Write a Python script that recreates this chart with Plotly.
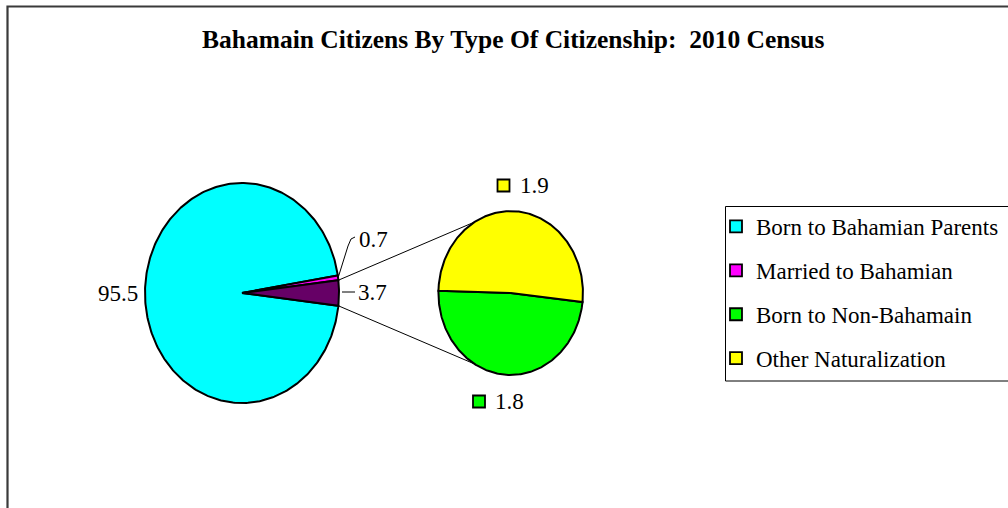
import numpy as np
import plotly.graph_objects as go

# ---------------- data ----------------
main_labels = ["Born to Bahamian Parents", "Married to Bahamian", "Born to Non-Bahamain", "Other Naturalization"]
main_values = [95.5, 0.7, 1.8, 1.9]
main_colors = ["#00FFFF", "#FF00FF", "#00FF00", "#FFFF00"]
other_color = "#660066"
title_text = "<b>Bahamain Citizens By Type Of Citizenship:&nbsp; 2010 Census</b>"

FONT = "Liberation Serif"
W, H = 1008, 508

# ---------------- geometry (layout) ----------------
SX, SY = 97.0, 110.0          # pixels per data unit on x and y
CX_PX, CY_PX = 242.0, 293.0   # main pie centre in pixels
MAIN_C, MAIN_R = (0.0, 0.0), 1.0
SEC_C, SEC_R = (2.77, 0.0), 0.745
SEC_START = 178.5             # second pie start angle (deg, ccw)
CONN_ANG = 120.0              # where connectors meet second pie


def px(xp, yp):
    return (xp - CX_PX) / SX, (CY_PX - yp) / SY


def wedge(c, r, a0, a1):
    t = np.radians(np.linspace(a0, a1, max(int(abs(a1 - a0) / 1.0) + 2, 3)))
    xs = np.concatenate([[c[0]], c[0] + r * np.cos(t), [c[0]]])
    ys = np.concatenate([[c[1]], c[1] + r * np.sin(t), [c[1]]])
    return xs, ys


def pt(c, r, a):
    a = np.radians(a)
    return c[0] + r * np.cos(a), c[1] + r * np.sin(a)


fig = go.Figure()

# main pie: born, married, other(combined)
vals = dict(zip(main_labels, main_values))
other_val = vals["Born to Non-Bahamain"] + vals["Other Naturalization"]
main_total = vals["Born to Bahamian Parents"] + vals["Married to Bahamian"] + other_val
other_span = other_val / main_total * 360
married_span = vals["Married to Bahamian"] / main_total * 360
born_span = vals["Born to Bahamian Parents"] / main_total * 360

o0, o1 = -other_span / 2, other_span / 2
m0, m1 = o1, o1 + married_span
b0, b1 = m1, m1 + born_span

line = dict(color="black", width=2)
for (a0, a1, col) in [(b0, b1, main_colors[0]), (m0, m1, main_colors[1]), (o0, o1, other_color)]:
    xs, ys = wedge(MAIN_C, MAIN_R, a0, a1)
    fig.add_trace(go.Scatter(x=xs, y=ys, mode="lines", fill="toself", fillcolor=col,
                             line=line, showlegend=False, hoverinfo="skip"))

# second pie
sec_total = other_val
g_span = vals["Born to Non-Bahamain"] / sec_total * 360
y_span = vals["Other Naturalization"] / sec_total * 360
g0, g1 = SEC_START, SEC_START + g_span
y0, y1 = g1, g1 + y_span
for (a0, a1, col) in [(g0, g1, main_colors[2]), (y0, y1, main_colors[3])]:
    xs, ys = wedge(SEC_C, SEC_R, a0, a1)
    fig.add_trace(go.Scatter(x=xs, y=ys, mode="lines", fill="toself", fillcolor=col,
                             line=line, showlegend=False, hoverinfo="skip"))

# connector lines
for s, a in [(o1, CONN_ANG), (o0, -CONN_ANG)]:
    p0 = pt(MAIN_C, MAIN_R, s)
    p1 = pt(SEC_C, SEC_R, a)
    fig.add_trace(go.Scatter(x=[p0[0], p1[0]], y=[p0[1], p1[1]], mode="lines",
                             line=dict(color="black", width=1), showlegend=False, hoverinfo="skip"))

# leader lines
mm = pt(MAIN_C, MAIN_R, (m0 + m1) / 2)
hook = [(348, 246), (351, 239), (355, 237)]
lx = [mm[0]] + [px(x, y)[0] for x, y in hook]
ly = [mm[1]] + [px(x, y)[1] for x, y in hook]
fig.add_trace(go.Scatter(x=lx, y=ly, mode="lines", line=dict(color="black", width=1),
                         showlegend=False, hoverinfo="skip"))
a = px(342, 292); b = px(355, 292)
fig.add_trace(go.Scatter(x=[a[0], b[0]], y=[a[1], b[1]], mode="lines", line=dict(color="black", width=1),
                         showlegend=False, hoverinfo="skip"))

# label keys for second-pie labels
k1 = px(503.5, 185.5); k2 = px(479, 401.5)
fig.add_trace(go.Scatter(x=[k1[0], k2[0]], y=[k1[1], k2[1]], mode="markers",
                         marker=dict(symbol="square", size=12, color=[main_colors[3], main_colors[2]],
                                     line=dict(color="black", width=1.8)),
                         showlegend=False, hoverinfo="skip"))

# legend entries
for i, (name, col) in enumerate(zip(main_labels, main_colors)):
    fig.add_trace(go.Scatter(x=[None], y=[None], mode="markers", name=name, legendgroup=f"g{i}",
                             marker=dict(symbol="square", size=12, color=col,
                                         line=dict(color="black", width=1.8))))

annots = []
def label(text, xp, yp, anchor):
    x, y = px(xp, yp)
    annots.append(dict(x=x, y=y, xref="x", yref="y", text=text, showarrow=False,
                       xanchor=anchor, yanchor="middle",
                       font=dict(family=FONT, size=23, color="black")))

label(f"{vals['Born to Bahamian Parents']}", 140, 293, "right")
label(f"{vals['Married to Bahamian']}", 357, 239, "left")
label(f"{other_val:.1f}", 356, 292, "left")
label(f"{vals['Other Naturalization']}", 518, 185, "left")
label(f"{vals['Born to Non-Bahamain']}", 493, 401, "left")

annots.append(dict(x=513.5 / W, y=1 - 40 / H, xref="paper", yref="paper", text=title_text,
                   showarrow=False, xanchor="center", yanchor="middle",
                   font=dict(family=FONT, size=25.5, color="black")))

fig.update_layout(
    width=W, height=H,
    margin=dict(l=0, r=0, t=0, b=0, autoexpand=False),
    paper_bgcolor="white", plot_bgcolor="white",
    xaxis=dict(range=[-CX_PX / SX, (W - CX_PX) / SX], visible=False, fixedrange=True),
    yaxis=dict(range=[-(H - CY_PX) / SY, CY_PX / SY], visible=False, fixedrange=True),
    annotations=annots,
    showlegend=True,
    legend=dict(x=716 / W, y=1 - 205 / H, xanchor="left", yanchor="top",
                borderwidth=0, bgcolor="rgba(0,0,0,0)",
                font=dict(family=FONT, size=23, color="black"),
                traceorder="grouped", tracegroupgap=11, itemwidth=30),
    shapes=[
        dict(type="rect", xref="paper", yref="paper", x0=7.5 / W, x1=1.05, y0=-0.05, y1=1 - 6.5 / H,
             line=dict(color="#3a3a3a", width=2.2)),
        dict(type="rect", xref="paper", yref="paper", x0=725.5 / W, x1=1.02, y0=1 - 381 / H, y1=1 - 206.5 / H,
             line=dict(color="black", width=1), layer="below"),
    ],
)

fig.write_html("out.html", config={"displayModeBar": False},
               post_script="document.body.style.margin='0';")
